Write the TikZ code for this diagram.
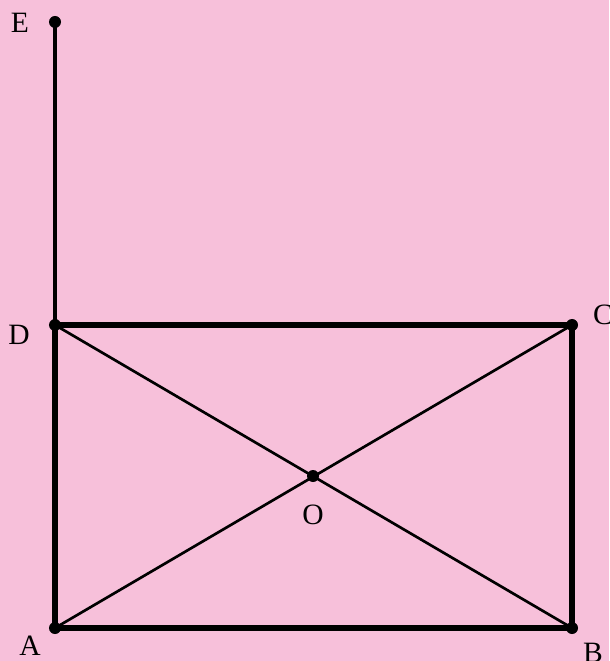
\documentclass[tikz,border=0pt]{standalone}
\usepackage{fontspec}
\setmainfont{Liberation Serif}
\usetikzlibrary{positioning}
\definecolor{bgpink}{RGB}{247,192,218}
\tikzset{>=latex}
\tikzset{pt/.style={circle, fill=black, inner sep=0pt, minimum size=3mm}}
\tikzset{lbl/.style={font=\fontsize{21}{25}\selectfont, inner sep=0pt}}
\tikzset{frame/.style={line width=4.4pt}}
\tikzset{diag/.style={line width=1.9pt}}

\begin{document}
\begin{tikzpicture}[x=0.025cm, y=-0.025cm]
  \fill[bgpink] (0,0) rectangle (609,661);
  \useasboundingbox (0,0) rectangle (609,661);
  % vertices
  \coordinate (A) at (55,628);
  \coordinate (B) at (572,628);
  \coordinate (C) at (572,325);
  \coordinate (D) at (55,325);
  \coordinate (E) at (55,22);
  \coordinate (O) at (313,476);
  % rectangle and diagonals
  \draw[frame, line join=miter] (A) -- (B) -- (C) -- (D) -- cycle;
  \draw[diag] (A) -- (C);
  \draw[diag] (B) -- (D);
  \draw[line width=2.8pt] (D) -- (E);
  \foreach \p in {A,B,C,D,E,O}
    \node[pt] (dot\p) at (\p) {};
  % labels
  \node[lbl] (lblE) at (20,23) {E};
  \node[lbl] (lblD) at (19,335) {D};
  \node[lbl] (lblC) at (603,315) {C};
  \node[lbl] (lblA) at (30,646) {A};
  \node[lbl] (lblB) at (593,653) {B};
  \node[lbl] (lblO) at (313,515) {O};
\end{tikzpicture}
\end{document}
